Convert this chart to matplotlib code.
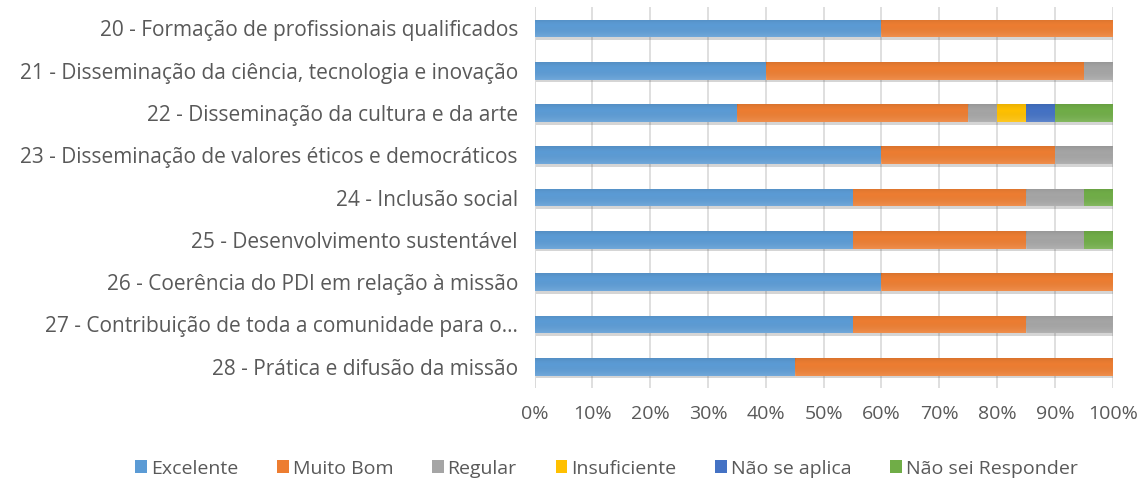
import matplotlib
matplotlib.use("Agg")
import matplotlib.pyplot as plt
import matplotlib.patheffects as pe
import numpy as np

categories = [
    "20 - Formação de profissionais qualificados",
    "21 - Disseminação da ciência, tecnologia e inovação",
    "22 - Disseminação da cultura e da arte",
    "23 - Disseminação de valores éticos e democráticos",
    "24 - Inclusão social",
    "25 - Desenvolvimento sustentável",
    "26 - Coerência do PDI em relação à missão",
    "27 - Contribuição de toda a comunidade para o…",
    "28 - Prática e difusão da missão",
]

series_names = ["Excelente", "Muito Bom", "Regular", "Insuficiente",
                "Não se aplica", "Não sei Responder"]

excelente = [60, 40, 35, 60, 55, 55, 60, 55, 45]
muito_bom = [40, 55, 40, 30, 30, 30, 40, 30, 55]
regular = [0, 5, 5, 10, 10, 10, 0, 15, 0]
insuficiente = [0, 0, 5, 0, 0, 0, 0, 0, 0]
nao_aplica = [0, 0, 5, 0, 0, 0, 0, 0, 0]
nao_sei = [0, 0, 10, 0, 5, 5, 0, 0, 0]

colors = ["#5B9BD5", "#ED7D31", "#A5A5A5", "#FFC000", "#4472C4", "#70AD47"]
text_color = "#595959"

plt.rcParams["font.family"] = ["Open Sans", "DejaVu Sans"]

fig = plt.figure(figsize=(11.4, 4.83), dpi=100)
ax = fig.add_axes([0.469, 0.197, 0.507, 0.788])

y = np.arange(len(categories))
left = np.zeros(len(categories))
all_bars = []
for name, vals, col in zip(series_names,
                           [excelente, muito_bom, regular, insuficiente, nao_aplica, nao_sei],
                           colors):
    vals = np.array(vals, dtype=float)
    bars = ax.barh(y, vals, left=left, height=0.42, color=col, label=name, zorder=3)
    all_bars.extend(bars)
    left += vals

ax.set_xlim(0, 100)
ax.set_ylim(len(categories) - 0.5, -0.5)
ax.set_xticks(np.arange(0, 101, 10))
ax.set_xticklabels([f"{v}%" for v in range(0, 101, 10)])
ax.set_yticks(y)
ax.set_yticklabels(categories)
ax.grid(axis="x", color="#D9D9D9", linewidth=1.2, zorder=0)
for s in ax.spines.values():
    s.set_visible(False)
ax.axvline(0, color="#D9D9D9", linewidth=1.2, zorder=1)
ax.tick_params(axis="x", length=0, labelsize=14, colors=text_color, pad=12)
ax.tick_params(axis="y", length=0, labelsize=15, colors=text_color, pad=12)

fig.legend(loc="center", bbox_to_anchor=(0.532, 0.03), ncol=6, frameon=False,
           fontsize=14, labelcolor=text_color, handlelength=0.6, handleheight=0.6,
           handletextpad=0.2, columnspacing=2.0)

# soft drop shadow + light top-to-bottom shading on bars
# (added after the legend so the legend keys stay flat)
shadow = [pe.SimplePatchShadow(offset=(1.2, -2.0), alpha=0.22, shadow_rgbFace="#404040"),
          pe.Normal()]
shade = np.zeros((32, 1, 4))
shade[:, 0, :3] = np.linspace(1, 0, 32)[:, None]
shade[:, 0, 3] = np.abs(np.linspace(0.14, -0.08, 32))
for b in all_bars:
    b.set_path_effects(shadow)
    w = b.get_width()
    if w <= 0:
        continue
    x0, y0, h = b.get_x(), b.get_y(), b.get_height()
    im = ax.imshow(shade, extent=(x0, x0 + w, y0, y0 + h), aspect="auto",
                   origin="upper", zorder=3.5, interpolation="bilinear")
    im.set_clip_path(b)

ax.set_xlim(0, 100)
ax.set_ylim(len(categories) - 0.5, -0.5)

fig.savefig("out.png", dpi=100)
